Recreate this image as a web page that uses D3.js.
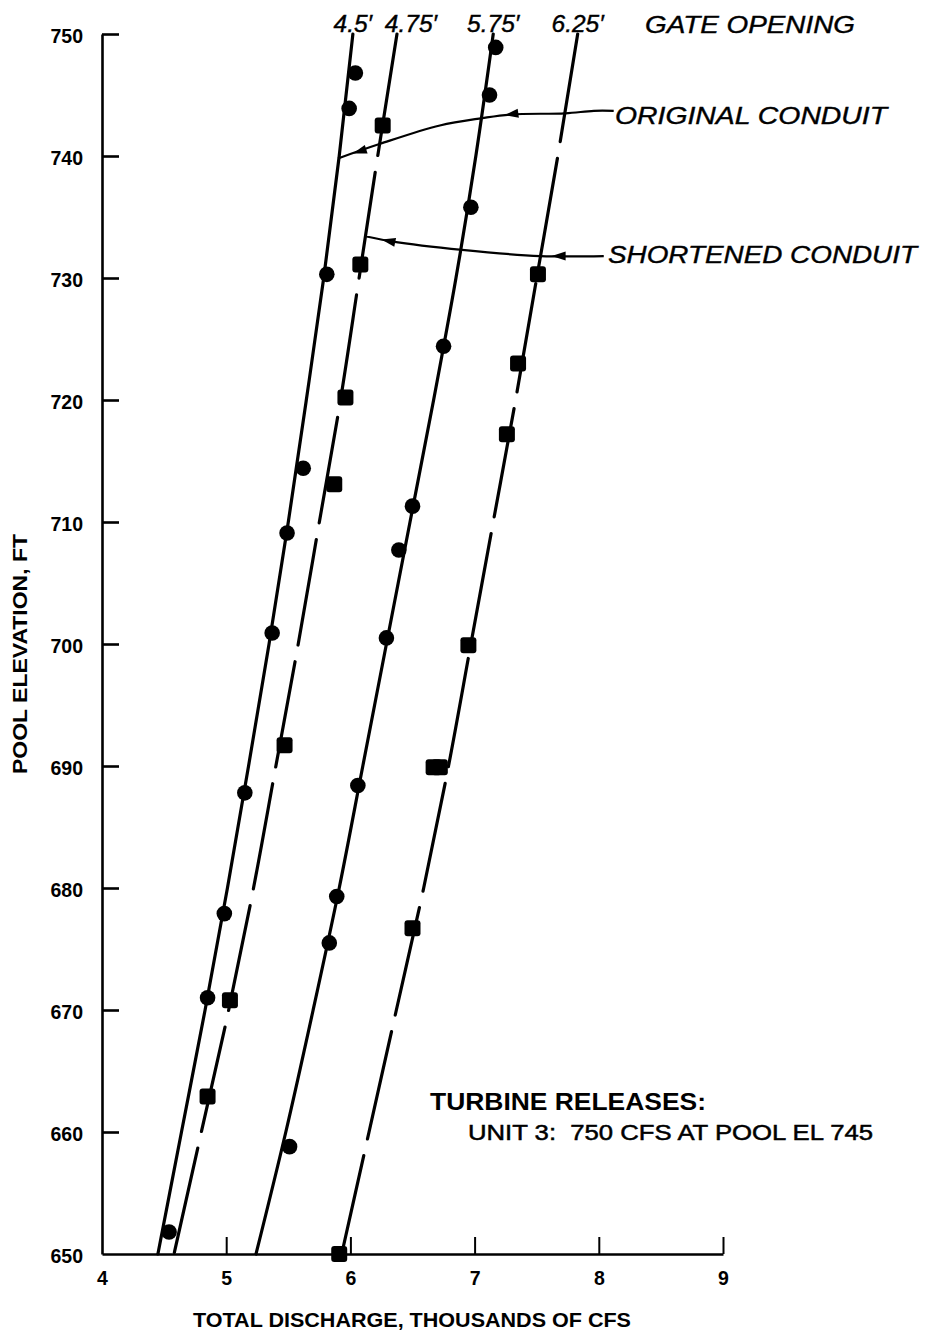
<!DOCTYPE html>
<html>
<head>
<meta charset="utf-8">
<script src="https://cdn.jsdelivr.net/npm/d3@7"></script>
<style>
  html, body { margin: 0; padding: 0; background: #fff; }
  svg { display: block; }
  text { font-family: "Liberation Sans", Arial, Helvetica, sans-serif; fill: #000; }
</style>
</head>
<body>
<script>
// ---------------- DATA ----------------
// Pool elevation (ft) knots at which each rating curve is read
const elevations = [650, 660, 670, 680, 690, 700, 710, 720, 730, 740, 750];

// Total discharge (thousands of cfs) along each fitted curve
const curve450 = [4.45, 4.64, 4.83, 5.01, 5.18, 5.345, 5.50, 5.645, 5.785, 5.91, 6.02]; // 4.5' original
const curve475 = [4.58, 4.80, 5.02, 5.22, 5.40, 5.58, 5.75, 5.92, 6.07, 6.22, 6.375]; // 4.75' shortened
const curve575 = [5.24, 5.48, 5.70, 5.91, 6.10, 6.29, 6.48, 6.67, 6.85, 7.01, 7.15];  // 5.75' original
const curve625 = [5.93, 6.15, 6.37, 6.59, 6.79, 6.97, 7.15, 7.33, 7.50, 7.67, 7.83];  // 6.25' shortened

// Observed points [discharge, elevation]
const obs450 = [[6.04, 746.8], [5.99, 743.9], [5.81, 730.3], [5.62, 714.4], [5.49, 709.1],
                [5.37, 700.9], [5.15, 687.8], [4.985, 677.9], [4.85, 671.0], [4.54, 651.8]];
const obs475 = [[6.26, 742.5], [6.08, 731.1], [5.96, 720.2], [5.87, 713.1], [5.47, 691.7],
                [5.03, 670.8], [4.85, 662.9]];
const obs575 = [[7.17, 748.9], [7.12, 745.0], [6.97, 735.8], [6.75, 724.4], [6.50, 711.3],
                [6.39, 707.7], [6.29, 700.5], [6.06, 688.4], [5.89, 679.3], [5.83, 675.5], [5.51, 658.8]];
const obs625 = [[7.51, 730.3], [7.35, 723.0], [7.26, 717.2], [6.95, 699.9], [6.67, 689.9],
                [6.72, 689.9], [6.50, 676.7], [5.91, 650.0]];

// Gate-opening labels (one per curve)
const gateLabels = ["4.5\u2032", "4.75\u2032", "5.75\u2032", "6.25\u2032"];

// Tick labels
const xTicks = [4, 5, 6, 7, 8, 9];
const yTicks = [650, 660, 670, 680, 690, 700, 710, 720, 730, 740, 750];

// Leader lines (data units) for the two legend call-outs
const originalLeader  = [[8.12, 743.7], [7.96, 743.7], [7.73, 743.5], [7.29, 743.4], [7.06, 743.1],
                         [6.72, 742.5], [6.24, 741.0], [5.90, 739.8]];
const originalArrows  = [[7.24, 743.35], [6.02, 740.2]];
const shortenedLeader = [[8.04, 731.8], [7.53, 731.8], [6.90, 732.3], [6.33, 733.0], [6.13, 733.4]];
const shortenedArrows = [[7.62, 731.8], [6.25, 733.15]];

// ---------------- DRAWING ----------------
const W = 925, H = 1334;
const svg = d3.select("body").append("svg").attr("width", W).attr("height", H);

const x = d3.scaleLinear().domain([4, 9]).range([102, 723]);
const y = d3.scaleLinear().domain([650, 750]).range([1254, 34]);

// Axes
const yAxis = d3.axisLeft(y).tickValues(yTicks).tickSize(-17).tickSizeOuter(0).tickPadding(19)
  .tickFormat(d3.format("d"));
const gy = svg.append("g").attr("transform", `translate(${x(4)},0)`).call(yAxis);
gy.select(".domain").attr("stroke", "#000").attr("stroke-width", 2.6);
gy.selectAll(".tick line").attr("stroke", "#000").attr("stroke-width", 2.6)
  .filter(d => d === 650).remove();
gy.selectAll(".tick text").attr("font-size", 19.5).attr("font-weight", "bold")
  .attr("fill", "#000").attr("dy", "0.42em");

const xAxis = d3.axisBottom(x).tickValues(xTicks).tickSize(-17).tickSizeOuter(0).tickPadding(17)
  .tickFormat(d3.format("d"));
const gx = svg.append("g").attr("transform", `translate(0,${y(650)})`).call(xAxis);
gx.select(".domain").attr("stroke", "#000").attr("stroke-width", 2.6);
gx.selectAll(".tick line").attr("stroke", "#000").attr("stroke-width", 2)
  .filter(d => d === 4).remove();
gx.selectAll(".tick text").attr("font-size", 19.5).attr("font-weight", "bold").attr("fill", "#000");

// Axis titles
svg.append("text")
  .attr("x", 412).attr("y", 1327)
  .attr("text-anchor", "middle").attr("font-size", 20).attr("font-weight", "bold")
  .attr("textLength", 438).attr("lengthAdjust", "spacingAndGlyphs")
  .text("TOTAL DISCHARGE, THOUSANDS OF CFS");

svg.append("text")
  .attr("transform", "translate(27,654) rotate(-90)")
  .attr("text-anchor", "middle").attr("font-size", 19.5).attr("font-weight", "bold")
  .attr("textLength", 240).attr("lengthAdjust", "spacingAndGlyphs")
  .text("POOL ELEVATION, FT");

// Dash pattern helper (style only): a first dash, then regular dash/gap pairs
function dashes(first, dash, gap) {
  const arr = [first];
  for (let s = first; s < 1600; s += dash + gap) arr.push(gap, dash);
  return arr.join(" ");
}

// Curves
const line = d3.line().x(d => x(d[0])).y(d => y(d[1])).curve(d3.curveMonotoneY);
const curves = [
  { vals: curve450, dash: null,              obs: obs450, mark: "circle", labelShift: 0 },
  { vals: curve475, dash: dashes(123, 107, 17), obs: obs475, mark: "square", labelShift: 14 },
  { vals: curve575, dash: null,              obs: obs575, mark: "circle", labelShift: 0 },
  { vals: curve625, dash: dashes(109, 110, 17), obs: obs625, mark: "square", labelShift: 0 }
];

curves.forEach((c, i) => {
  // path drawn from the top (750 ft) downward
  const pts = elevations.map((e, k) => [c.vals[k], e]).reverse();
  svg.append("path")
    .attr("d", line(pts))
    .attr("fill", "none").attr("stroke", "#000").attr("stroke-width", 3.2)
    .attr("stroke-linecap", "round")
    .attr("stroke-dasharray", c.dash);

  if (c.mark === "circle") {
    svg.append("g").selectAll("circle").data(c.obs).join("circle")
      .attr("cx", d => x(d[0])).attr("cy", d => y(d[1])).attr("r", 7.8).attr("fill", "#000");
  } else {
    svg.append("g").selectAll("rect").data(c.obs).join("rect")
      .attr("x", d => x(d[0]) - 8).attr("y", d => y(d[1]) - 8)
      .attr("width", 16).attr("height", 16).attr("rx", 3).attr("fill", "#000");
  }

  // Gate-opening label above the top of each curve
  const top = pts[0];
  svg.append("text")
    .attr("x", x(top[0]) + c.labelShift).attr("y", 32)
    .attr("text-anchor", "middle").attr("font-size", 24.5).attr("font-style", "italic")
    .attr("stroke", "#000").attr("stroke-width", 0.4)
    .text(gateLabels[i]);
});

// Header
svg.append("text").attr("x", 645).attr("y", 33).attr("font-size", 24.5).attr("font-style", "italic")
  .attr("stroke", "#000").attr("stroke-width", 0.4)
  .attr("textLength", 210).attr("lengthAdjust", "spacingAndGlyphs")
  .text("GATE OPENING");

// Call-outs
const leader = d3.line().x(d => x(d[0])).y(d => y(d[1])).curve(d3.curveCatmullRom);
function arrowHead(tip, toward) {
  const tx = x(tip[0]), ty = y(tip[1]);
  const ang = Math.atan2(y(toward[1]) - ty, x(toward[0]) - tx);
  const L = 14, hw = 4.5;
  const bx = tx - L * Math.cos(ang), by = ty - L * Math.sin(ang);
  const px = -Math.sin(ang) * hw, py = Math.cos(ang) * hw;
  svg.append("path")
    .attr("d", `M${tx},${ty}L${bx + px},${by + py}L${bx - px},${by - py}Z`)
    .attr("fill", "#000");
}
function callout(pts, arrows, label, lx, ly, len) {
  svg.append("path").attr("d", leader(pts)).attr("fill", "none")
    .attr("stroke", "#000").attr("stroke-width", 2.2);
  arrows.forEach(a => {
    const next = pts.find(p => p[0] < a[0] - 0.05) || pts[pts.length - 1];
    arrowHead(a, next);
  });
  svg.append("text").attr("x", lx).attr("y", ly).attr("font-size", 24.5).attr("font-style", "italic")
    .attr("stroke", "#000").attr("stroke-width", 0.4)
    .attr("textLength", len).attr("lengthAdjust", "spacingAndGlyphs").text(label);
}
callout(originalLeader, originalArrows, "ORIGINAL CONDUIT", 615, 124, 272);
callout(shortenedLeader, shortenedArrows, "SHORTENED CONDUIT", 608, 263, 309);

// Notes
svg.append("text").attr("x", 430).attr("y", 1110).attr("font-size", 24).attr("font-weight", "bold")
  .attr("textLength", 276).attr("lengthAdjust", "spacingAndGlyphs")
  .text("TURBINE RELEASES:");
svg.append("text").attr("x", 468).attr("y", 1140).attr("font-size", 22)
  .attr("stroke", "#000").attr("stroke-width", 0.5)
  .attr("textLength", 405).attr("lengthAdjust", "spacingAndGlyphs")
  .attr("xml:space", "preserve")
  .text("UNIT 3:  750 CFS AT POOL EL 745");
</script>
</body>
</html>
